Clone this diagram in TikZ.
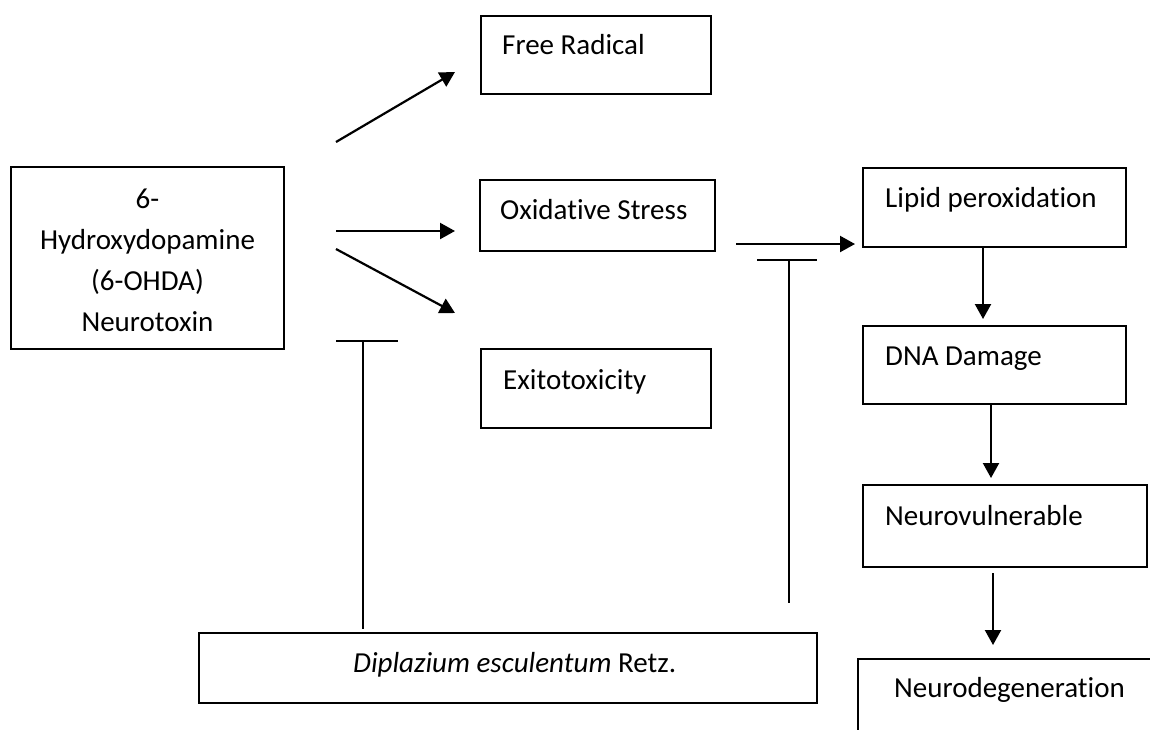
\documentclass[tikz,border=0pt]{standalone}
\usepackage{fontspec}
\setmainfont[Ligatures={NoCommon}]{Carlito}
\usetikzlibrary{arrows.meta}
\begin{document}
\begin{tikzpicture}[x=1pt,y=-1pt,
  box/.style={draw, line width=1.6pt, inner sep=0pt, outer sep=0pt, anchor=north west},
  txt/.style={font=\fontsize{29}{41}\selectfont, inner sep=0pt, anchor=base west},
  arr/.style={-{Triangle[length=15pt,width=16pt]}, line width=2.2pt},
  inh/.style={line width=1.5pt}]
\useasboundingbox (0,0) rectangle (1150,729);
\clip (0,0) rectangle (1150,729);
% boxes
\node[box, minimum width=273pt, minimum height=182pt] (src) at (11,167) {};
\node[box, minimum width=230pt, minimum height=78pt] (fr) at (481,16) {};
\node[box, minimum width=235pt, minimum height=71pt] (os) at (480,180) {};
\node[box, minimum width=230pt, minimum height=79pt] (ex) at (481,349) {};
\node[box, minimum width=263pt, minimum height=79pt] (lp) at (863,168) {};
\node[box, minimum width=263pt, minimum height=78pt] (dna) at (863,326) {};
\node[box, minimum width=284pt, minimum height=82pt] (nv) at (863,485) {};
\node[box, minimum width=300pt, minimum height=110pt] (nd) at (858,659) {};
\node[box, minimum width=618pt, minimum height=70pt] (dip) at (199,633) {};
% texts
\node[font=\fontsize{29}{41}\selectfont, inner sep=0pt, align=center, anchor=center] (srct) at (147.5,260) {6-\\Hydroxydopamine\\(6-OHDA)\\Neurotoxin};
\node[txt] (frt) at (502,54) {Free Radical};
\node[txt] (ost) at (500,219) {Oxidative Stress};
\node[txt] (ext) at (503,389) {Exitotoxicity};
\node[txt] (lpt) at (885,207) {Lipid peroxidation};
\node[txt] (dnat) at (885,365) {DNA Damage};
\node[txt] (nvt) at (885,525) {Neurovulnerable};
\node[txt] (ndt) at (894,697) {Neurodegeneration};
\node[txt] (dipt) at (353,672) {\textit{Diplazium esculentum} Retz.};
% arrow end points
\coordinate (a1s) at (336,142); \coordinate (a1e) at (455,72);
\coordinate (a2s) at (336,231); \coordinate (a2e) at (455,231);
\coordinate (a3s) at (336,249); \coordinate (a3e) at (455,313);
\coordinate (a4s) at (736,244); \coordinate (a4e) at (855,244);
\coordinate (a5s) at (983,247); \coordinate (a5e) at (983,319);
\coordinate (a6s) at (991,404); \coordinate (a6e) at (991,478);
\coordinate (a7s) at (993,573); \coordinate (a7e) at (993,645);
\draw[arr] (a1s) -- (a1e);
\draw[arr] (a2s) -- (a2e);
\draw[arr] (a3s) -- (a3e);
\draw[arr] (a4s) -- (a4e);
\draw[arr] (a5s) -- (a5e);
\draw[arr] (a6s) -- (a6e);
\draw[arr] (a7s) -- (a7e);
% inhibition bars
\coordinate (i1l) at (336,341); \coordinate (i1r) at (398,341);
\coordinate (i1t) at (363,341); \coordinate (i1b) at (363,629);
\coordinate (i2l) at (757,260); \coordinate (i2r) at (817,260);
\coordinate (i2t) at (789,260); \coordinate (i2b) at (789,603);
\draw[inh] (i1l) -- (i1r);
\draw[inh] (i1t) -- (i1b);
\draw[inh] (i2l) -- (i2r);
\draw[inh] (i2t) -- (i2b);
\end{tikzpicture}
\end{document}
